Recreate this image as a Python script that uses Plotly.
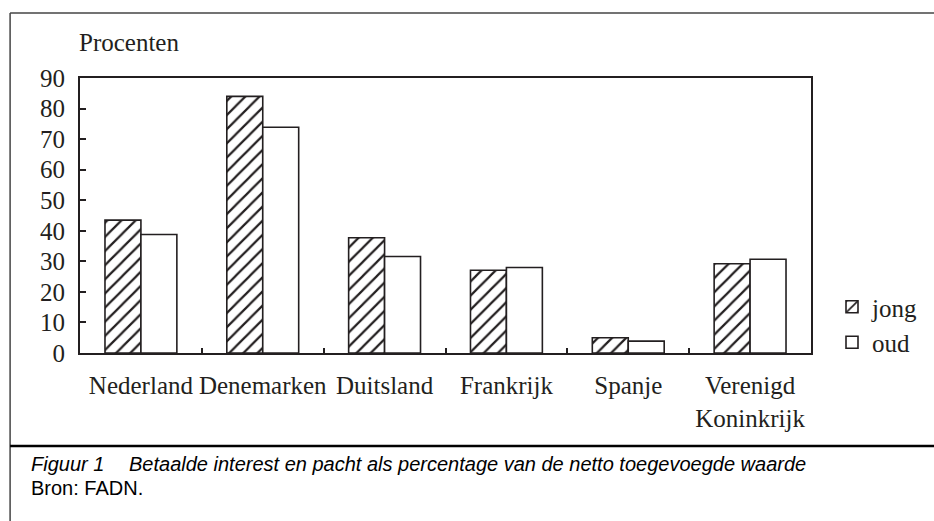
import plotly.graph_objects as go

categories = ["Nederland", "Denemarken", "Duitsland", "Frankrijk", "Spanje", "Verenigd<br>Koninkrijk"]
jong = [43.5, 84.0, 37.7, 27.1, 5.0, 29.2]
oud = [38.8, 73.9, 31.6, 28.0, 3.9, 30.7]
y_ticks = [0, 10, 20, 30, 40, 50, 60, 70, 80, 90]

W, H = 934, 521
L, R, T, B = 80, 812, 78, 353
INK = "#231f20"
SERIF = "Liberation Serif"
SANS = "Liberation Sans"
FS = 25


def px(x):
    return (x - L) / (R - L)


def py(y):
    return (B - y) / (B - T)


fig = go.Figure()
fig.add_trace(go.Bar(
    x=categories, y=jong, name="jong",
    marker=dict(color="white", line=dict(color=INK, width=1.6),
                pattern=dict(shape="/", size=10, solidity=0.22, fgcolor=INK, fgopacity=1, bgcolor="white")),
))
fig.add_trace(go.Bar(
    x=categories, y=oud, name="oud",
    marker=dict(color="white", line=dict(color=INK, width=1.6)),
))

shapes = [
    dict(type="line", xref="paper", yref="paper", x0=px(10), x1=px(W + 5), y0=py(13), y1=py(13),
         line=dict(color="#444", width=1.5)),
    dict(type="line", xref="paper", yref="paper", x0=px(10), x1=px(10), y0=py(13), y1=py(H + 5),
         line=dict(color="#444", width=1.5)),
    dict(type="line", xref="paper", yref="paper", x0=px(10), x1=px(W + 5), y0=py(446), y1=py(446),
         line=dict(color="black", width=2.5)),
]

annotations = [
    dict(text="Procenten", xref="paper", yref="paper", x=px(77), y=py(42), xanchor="left", yanchor="middle",
         showarrow=False, font=dict(family=SERIF, size=FS, color=INK)),
    dict(text="<i>Figuur 1</i>", xref="paper", yref="paper", x=px(29), y=py(464), xanchor="left", yanchor="middle",
         showarrow=False, font=dict(family=SANS, size=20, color="black")),
    dict(text="<i>Betaalde interest en pacht als percentage van de netto toegevoegde waarde</i>",
         xref="paper", yref="paper", x=px(127), y=py(464), xanchor="left", yanchor="middle",
         showarrow=False, font=dict(family=SANS, size=20, color="black")),
    dict(text="Bron: FADN.", xref="paper", yref="paper", x=px(29), y=py(488), xanchor="left", yanchor="middle",
         showarrow=False, font=dict(family=SANS, size=20, color="black")),
]

fig.update_layout(
    width=W, height=H,
    margin=dict(l=L, r=W - R, t=T, b=H - B),
    paper_bgcolor="white", plot_bgcolor="white",
    barmode="group", bargap=0.41, bargroupgap=0,
    showlegend=True,
    legend=dict(x=px(832), y=py(284), xanchor="left", yanchor="top",
                font=dict(family=SERIF, size=FS, color=INK),
                bgcolor="rgba(0,0,0,0)", tracegroupgap=0),
    shapes=shapes, annotations=annotations,
    font=dict(family=SERIF, size=FS, color=INK),
)
fig.update_xaxes(
    type="category", tickson="boundaries", ticks="inside", ticklen=5, tickwidth=1.5, tickcolor=INK,
    showline=True, linecolor=INK, linewidth=2.2, mirror=True, showgrid=False, tickangle=0,
    tickfont=dict(family=SERIF, size=FS, color=INK), ticklabelstandoff=9,
)
fig.update_yaxes(
    range=[0, 90], tickvals=y_ticks, ticks="inside", ticklen=6, tickwidth=1.5, tickcolor=INK,
    showline=True, linecolor=INK, linewidth=2.2, mirror=True, showgrid=False, zeroline=False,
    tickfont=dict(family=SERIF, size=FS, color=INK), ticklabelstandoff=8,
)

fig.write_html("out.html", config={"displayModeBar": False},
               post_script="document.body.style.margin='0';document.body.style.padding='0';")
